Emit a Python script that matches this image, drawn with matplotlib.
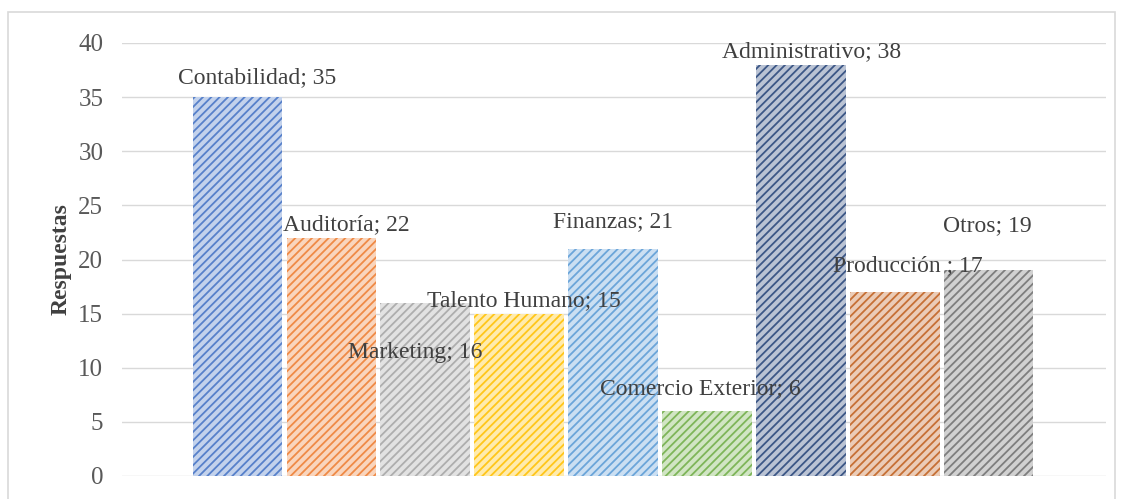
import matplotlib
matplotlib.use("Agg")
import matplotlib.pyplot as plt
from matplotlib.colors import to_rgb
from matplotlib.patches import Rectangle

categories = ["Contabilidad", "Auditoría", "Marketing", "Talento Humano", "Finanzas",
              "Comercio Exterior", "Administrativo", "Producción ", "Otros"]
values = [35, 22, 16, 15, 21, 6, 38, 17, 19]
colors = ["#4472C4", "#ED7D31", "#A5A5A5", "#FFC000", "#5B9BD5",
          "#70AD47", "#264478", "#C0601F", "#707070"]
# label offsets from bar top (pixels)
label_dx = [20, 15, -10, 5, 0, -7, 11, 13, -1]
label_dy = [19, 13, -50, 13, 27, 22, 13, 26, 45]

plt.rcParams["font.family"] = ["Liberation Serif", "DejaVu Serif"]
plt.rcParams["hatch.linewidth"] = 1.3

def lighten(c, f):
    r, g, b = to_rgb(c)
    return (r + (1 - r) * f, g + (1 - g) * f, b + (1 - b) * f)

fig = plt.figure(figsize=(11.23, 4.99), dpi=100)
ax = fig.add_axes([122 / 1123, 1 - 476 / 499, (1106 - 122) / 1123, (476 - 43) / 499])

for i, (v, c) in enumerate(zip(values, colors)):
    ax.bar(i, v, width=0.955, facecolor=lighten(c, 0.68), edgecolor=lighten(c, 0.1),
           linewidth=0, hatch="////", zorder=2)
    ax.annotate(f"{categories[i]}; {v}", (i, v), xytext=(label_dx[i], label_dy[i]),
                textcoords="offset pixels", ha="center", va="center",
                fontsize=17, color="#404040", zorder=3)

ax.set_xlim(-1.23, 9.25)
ax.set_ylim(0, 40)
ax.set_yticks(range(0, 41, 5))
ax.set_xticks([])
ax.tick_params(axis="y", length=0, labelsize=18, labelcolor="#595959", pad=13.5)
ax.grid(axis="y", color="#D9D9D9", linewidth=1, zorder=0)
for s in ax.spines.values():
    s.set_visible(False)
ax.set_ylabel("Respuestas", fontsize=17, fontweight="bold", color="#404040", labelpad=5)

fig.patches.append(Rectangle((8 / 1123, -0.05), (1115 - 8) / 1123, 1.05 - 12 / 499,
                             transform=fig.transFigure, fill=False,
                             edgecolor="#D9D9D9", linewidth=1.2))

fig.savefig("out.png", dpi=100)
